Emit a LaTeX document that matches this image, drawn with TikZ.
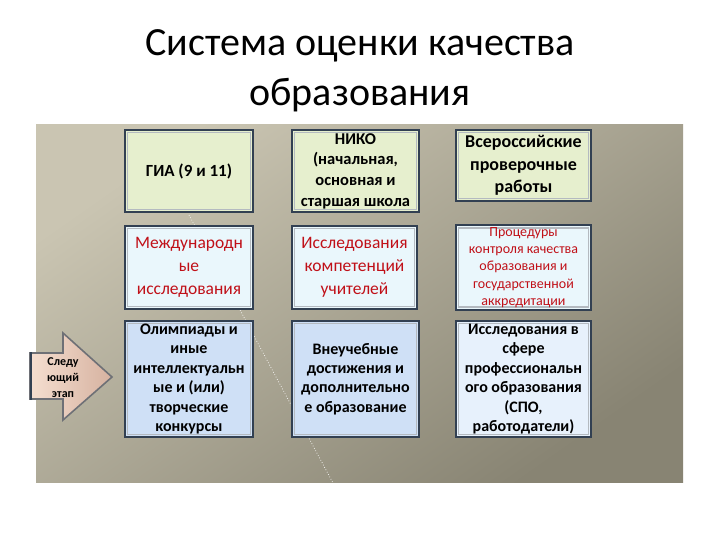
\documentclass[tikz,border=0pt]{standalone}
\usepackage{fontspec}
\setmainfont{Carlito}
\usepackage{tikz}
\usetikzlibrary{arrows.meta}

\definecolor{panelA}{RGB}{202,197,178}
\definecolor{panelB}{RGB}{136,132,115}
\definecolor{edge}{RGB}{50,64,82}
\definecolor{bevel}{RGB}{180,186,192}
\definecolor{greenfill}{RGB}{230,239,206}
\definecolor{cyanfill}{RGB}{234,247,252}
\definecolor{bluefill}{RGB}{207,224,246}
\definecolor{palefill}{RGB}{231,241,252}
\definecolor{redtext}{RGB}{192,16,24}
\definecolor{peachA}{RGB}{245,222,208}
\definecolor{peachB}{RGB}{214,178,160}
\definecolor{arrowedge}{RGB}{110,112,118}

\tikzset{
  cell/.style={draw=edge, line width=2pt, align=center, inner sep=2pt,
    path picture={\draw[bevel, line width=1.6pt]
      ([shift={(2.4pt,-2.4pt)}]path picture bounding box.north west) rectangle
      ([shift={(-2.4pt,2.4pt)}]path picture bounding box.south east);}},
  greencell/.style={cell, fill=greenfill, font=\fontsize{17}{20.5}\selectfont\bfseries},
  redcell/.style={cell, fill=cyanfill, text=redtext, font=\fontsize{17.5}{23}\selectfont},
  bluecell/.style={cell, fill=bluefill, font=\fontsize{16}{19.4}\selectfont\bfseries},
  rowone/.style={minimum height=82pt},
  rowtwo/.style={minimum height=83pt},
  rowthree/.style={minimum height=116pt},
  colone/.style={minimum width=128pt},
  coltwo/.style={minimum width=127pt},
  colthree/.style={minimum width=135pt},
}

\begin{document}
\begin{tikzpicture}[x=1pt,y=-1pt]
\useasboundingbox (0,0) rectangle (720,540);
\fill[white] (0,0) rectangle (720,540);

\node[anchor=north, inner sep=0pt, align=center, font=\fontsize{40}{50}\selectfont] (title) at (360,29)
  {Система оценки качества\\образования};

% background panel
\shade[left color=panelA, right color=panelB, shading angle=35] (36,125) rectangle (683,482);

% white dotted line behind the boxes
\coordinate (dotA) at (189,215);
\coordinate (dotB) at (333,483);
\draw[white, dotted, line width=0.7pt] (dotA) -- (dotB);

% row 1
\node[greencell, rowone, colone] (gia) at (189,171) {ГИА (9 и 11)};
\node[greencell, rowone, coltwo, font=\fontsize{16.5}{20.7}\selectfont\bfseries] (niko) at (355.5,171)
  {НИКО\\(начальная,\\основная и\\старшая школа};
\node[greencell, colthree, minimum height=71pt, font=\fontsize{18}{22.5}\selectfont\bfseries] (vpr) at (523.5,165.5)
  {Всероссийские\\проверочные\\работы};

% row 2
\node[redcell, rowtwo, colone] (intl) at (189,267.5) {Международн\\ые\\исследования};
\node[redcell, rowtwo, minimum width=125pt] (teach) at (354.5,267.5) {Исследования\\компетенций\\учителей};
\node[redcell, rowtwo, colthree, font=\fontsize{14}{17.2}\selectfont] (proc) at (523.5,267.5)
  {Процедуры\\контроля качества\\образования и\\государственной\\аккредитации};

% row 3
\node[bluecell, rowthree, colone] (olymp) at (189,379)
  {Олимпиады и\\иные\\интеллектуальн\\ые и (или)\\творческие\\конкурсы};
\node[bluecell, rowthree, coltwo] (extra) at (355.5,379)
  {Внеучебные\\достижения и\\дополнительно\\е образование};
\node[bluecell, rowthree, colthree, fill=palefill] (spo) at (523.5,379)
  {Исследования в\\сфере\\профессиональн\\ого образования\\(СПО,\\работодатели)};

% arrow
\draw[arrowedge, line width=1.6pt, left color=peachA, right color=peachB]
  (30,353) -- (63,353) -- (63,333) -- (112,377) -- (63,420) -- (63,399) -- (30,399) -- cycle;
\draw[edge, line width=2.2pt] (31,352) -- (31,400);
\node[align=center, inner sep=0pt, font=\fontsize{12}{16}\selectfont\bfseries] (next) at (63,378)
  {Следу\\ющий\\этап};

\end{tikzpicture}
\end{document}
